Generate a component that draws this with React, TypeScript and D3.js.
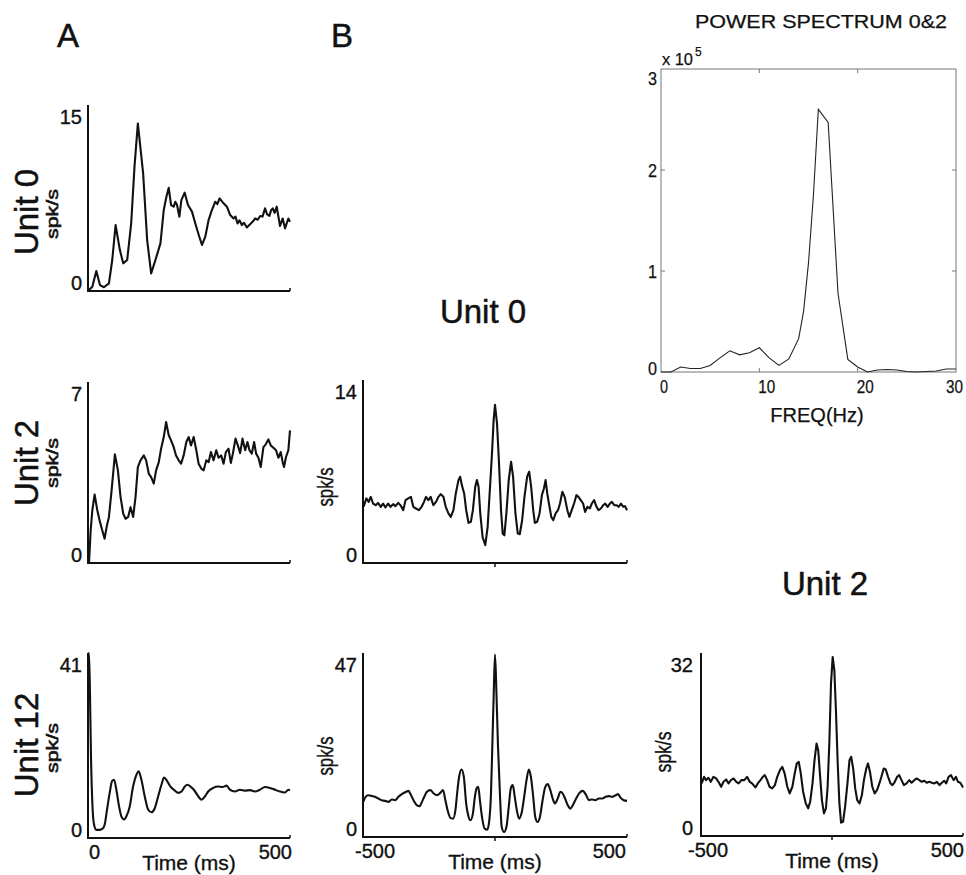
import React from "react";
import * as d3 from "d3";

const FONT = "'Liberation Sans', Arial, Helvetica, sans-serif";
const INK = "#111";

// ---------- data ----------
// Panel A: PSTHs, [time ms, rate spk/s]
const unit0Psth: [number, number][] = [[0,0],[10.7,0.35],[20.6,1.61],[29.6,0.48],[39.5,0.3],[51.8,0.62],[60,2.5],[68.3,5.32],[78.9,3.3],[87.2,2.23],[97,2.5],[106.9,5.46],[115.1,10.03],[123.4,13.51],[136.5,9.48],[146.4,4.11],[156.3,1.42],[166.9,2.5],[179.3,3.84],[187.5,6.53],[194.1,7.6],[199.8,8.33],[205.6,6.93],[212.2,6.8],[216,7.2],[220.4,6.93],[226.2,5.99],[231.1,7.33],[239.3,7.93],[247.5,6.93],[257.4,6.4],[265.6,5.45],[275.5,4.38],[282.1,3.71],[290.3,4.38],[298.5,5.72],[306.7,6.53],[315,7.2],[320,7.0],[325.7,7.47],[335.5,7.07],[343.8,6.8],[352,6.12],[360.2,5.85],[365,6.0],[370.1,5.45],[375,5.7],[380.8,5.32],[386,5.5],[393.1,5.13],[403,5.45],[408,5.6],[413.7,5.85],[420,5.75],[426,6.05],[432,6.0],[438.3,6.67],[443,6.2],[449,6.05],[453,6.5],[457.2,6.67],[462,6.3],[467.1,6.8],[475.3,5.24],[481.9,5.85],[487.7,5.05],[495.9,5.85],[500,5.59]];

const unit2Psth: [number, number][] = [[2.5,0],[6.6,1.26],[10.7,2.04],[16.4,2.65],[23,2.04],[29.6,1.59],[35.4,1.26],[41.1,0.94],[46.1,1.39],[51.8,1.78],[58.4,2.81],[66.6,4.2],[74,3.58],[80.6,2.55],[87.2,1.91],[92.9,1.71],[99.5,1.78],[105.3,2.16],[111.8,1.78],[117.6,2.55],[123.4,3.71],[129.9,3.97],[138.2,4.16],[143.9,3.97],[150.5,3.45],[156.3,3.32],[162.8,3.07],[168.6,3.58],[175.2,3.9],[180.9,4.42],[187.5,4.87],[193.3,5.45],[199.8,4.94],[205.6,4.74],[212.2,4.48],[217.9,4.16],[224.5,3.97],[230.3,3.84],[236.8,4.16],[243.4,4.68],[249.2,4.87],[254.9,4.55],[261.5,4.87],[268.1,4.36],[273.8,3.84],[280.4,3.65],[286.2,3.58],[292.8,3.97],[298.5,3.9],[304.3,4.29],[310.9,3.97],[317.4,4.36],[323.2,4.07],[329.8,4.16],[335.5,3.84],[341.3,4.29],[347.9,4.42],[353.6,3.87],[358.6,4.23],[365.1,4.81],[370.9,4.55],[376.6,4.25],[382.4,4.81],[389,4.36],[394.7,4.68],[399.7,4.36],[405.4,4.23],[411.2,4.68],[416.1,4.23],[421.9,4.07],[427.6,3.71],[434.2,4.48],[440,4.59],[446.5,4.78],[452.3,4.55],[458.9,4.46],[465.5,4.36],[471.2,4.07],[477,4.29],[481.9,3.9],[485.2,3.71],[490.1,4.1],[495.9,4.36],[500,5.13]];

const unit12Psth: [number, number][] = [[0,40.3],[2.5,41],[5,31.4],[7.4,18.1],[10.7,7.8],[14.9,3],[20.7,1.8],[28.9,1.8],[35.5,2],[41.3,3],[47.1,6.3],[53.7,10],[59.5,12.6],[64.5,12.9],[70.2,10.7],[76.9,7],[82.6,4.8],[89.3,4.1],[95,4.8],[103.3,7],[111.6,11.4],[119.8,14],[125.6,14.8],[132.2,12.9],[140.5,9.2],[148.8,6.3],[157,5.7],[165.3,6.6],[173.6,9.2],[181.8,11.8],[188.4,13.4],[195.9,12.6],[204.1,11.4],[212.4,10.7],[223.1,10],[231.4,10.3],[239.7,11.4],[246.3,11.8],[253.7,11.4],[262,10.7],[270.2,9.6],[281,8.5],[289.3,9.2],[297.5,10.3],[309.9,11.1],[322.3,11.4],[333.1,11.3],[343,11.6],[351.2,10.7],[363.6,10.3],[376,10.7],[388.4,10.5],[400.8,10.6],[413.2,10.3],[425.6,10.7],[438,11.3],[450.4,11.1],[462.8,10.7],[475.2,10.3],[487.6,10.1],[495.9,10.7],[500,10.6]];

// Panel B: cross-correlograms, [lag ms, rate spk/s]
const unit0Ccg: [number, number][] = [[-497.5,4.3],[-487.3,4.94],[-478.4,4.68],[-470.8,5.06],[-461.9,4.55],[-451.8,4.42],[-442.9,4.6],[-432.7,4.3],[-423.9,4.55],[-415,4.25],[-404.8,4.55],[-395.9,4.3],[-385.8,4.5],[-376.9,4.35],[-366.8,4.6],[-357.9,4.42],[-347.7,4.04],[-338.8,4.81],[-328.7,4.94],[-318.5,5.06],[-309.6,4.3],[-299.5,4.17],[-288.1,4.04],[-277.9,4.3],[-269,4.68],[-261.4,5.06],[-252.5,4.81],[-243.7,5.06],[-233.5,4.42],[-223.4,4.68],[-214.5,5.06],[-205.6,5.27],[-195.4,5.06],[-186.6,4.3],[-176.4,3.79],[-167.5,3.53],[-157.4,4.04],[-148.5,5.32],[-138.3,6.34],[-132,6.6],[-125.6,5.96],[-116.8,5.32],[-109.1,4.04],[-100.3,3.07],[-91.4,3.15],[-83.8,4.04],[-74.9,5.83],[-68.5,6.34],[-62.2,5.83],[-55.8,3.79],[-47,1.99],[-36.8,1.36],[-27.9,2.76],[-20.3,5.32],[-11.4,8.39],[-5.1,10.95],[0,12.1],[7.6,10.69],[15.2,7.62],[22.8,4.04],[29.2,2.25],[35.5,2.12],[43.1,3.79],[52,6.34],[60.9,7.75],[68.5,6.6],[77.4,3.79],[86.3,2.25],[93.9,2.2],[102.8,3.27],[111.6,5.06],[121.8,6.6],[129.4,6.98],[137,5.83],[144.7,4.04],[151,3.07],[159.9,3.15],[168.8,3.79],[177.6,5.19],[185.3,5.7],[191.6,6.34],[198,5.32],[204.3,4.55],[213.2,3.53],[220.8,3.27],[229.7,3.79],[238.6,4.04],[246.2,4.55],[255.1,5.45],[263.9,5.06],[274.1,4.04],[281.7,3.53],[290.6,4.04],[299.5,4.55],[308.3,5.19],[315.9,5.06],[324.8,4.81],[333.7,4.55],[341.3,3.91],[350.2,4.3],[359.1,4.17],[366.7,4.55],[375.6,4.81],[384.5,4.3],[392.1,4.04],[401,4.17],[409.9,4.42],[417.5,4.55],[426.4,4.3],[435.3,4.55],[442.9,4.68],[451.8,4.42],[460.6,4.42],[468.2,4.3],[477.1,4.55],[486,4.3],[492.4,4.35],[500,4.04]];

const unit12Ccg: [number, number][] = [[-499.1,8.97],[-490.2,10.26],[-480.1,10.68],[-467.4,10.51],[-454.7,10.26],[-442,9.83],[-429.3,9.4],[-416.6,9.23],[-403.9,8.97],[-391.2,9.57],[-378.5,9.4],[-365.8,10.26],[-353.1,10.94],[-336.6,11.54],[-327.7,11.79],[-321.3,11.11],[-308.6,9.4],[-295.9,8.12],[-285.8,7.86],[-276.9,8.97],[-268,10.26],[-257.8,11.54],[-245.1,11.97],[-232.4,11.11],[-219.7,10.68],[-207,11.28],[-196.9,11.97],[-188,9.4],[-177.8,6.41],[-168.9,4.87],[-158.8,4.7],[-149.9,6.84],[-143.5,11.11],[-135.9,15.38],[-127,17.26],[-118.1,15.38],[-109.2,8.55],[-101.6,5.56],[-92.7,4.27],[-83.8,5.98],[-76.2,10.26],[-69.9,12.39],[-63.5,12.82],[-57.2,9.4],[-48.3,4.7],[-39.4,2.14],[-29.2,1.88],[-21.6,4.27],[-15.2,11.11],[-10.2,23.08],[-5.1,35.9],[0,46.58],[5.1,37.61],[11.4,23.08],[19.1,10.26],[25.4,2.56],[34.3,1.28],[43.2,2.56],[52.1,7.69],[59.7,12.39],[67.3,13.25],[74.9,10.26],[82.6,6.84],[91.4,4.7],[100.3,5.98],[110.5,10.26],[119.4,14.53],[128.3,17.26],[135.9,15.38],[144.8,10.26],[152.4,5.13],[161.3,3.85],[170.2,5.13],[180.3,9.4],[190.5,12.82],[199.4,13.5],[209.6,11.97],[218.4,9.83],[227.3,8.55],[237.5,9.83],[247.7,11.54],[256.5,11.11],[265.4,9.83],[275.6,8.12],[285.8,7.26],[294.6,8.12],[307.3,9.83],[320,11.28],[332.7,11.79],[345.4,10.68],[355.6,9.4],[367,9.57],[379.7,9.4],[393.7,9.83],[406.4,9.83],[419.1,10.26],[431.8,10.43],[444.5,10.26],[457.2,10.68],[466.1,10.94],[476.3,10],[487.7,9.4],[500,9.23]];

const unit2Ccg: [number, number][] = [[-497.4,9.19],[-488.4,10.35],[-480.8,9.77],[-471.8,10.18],[-462.8,9.48],[-452.5,10.35],[-442.3,10.06],[-433.3,9.48],[-423.1,8.61],[-414.1,9.48],[-403.8,9.89],[-394.9,9.19],[-385.9,9.77],[-375.6,10.06],[-365.4,9.48],[-356.4,9.19],[-346.1,9.77],[-334.6,9.77],[-324.3,10.35],[-314.1,9.48],[-305.1,9.19],[-292.3,8.49],[-283.3,9.19],[-273.1,9.77],[-264.1,10.35],[-256.4,10.65],[-247.4,9.77],[-238.5,8.61],[-228.2,8.32],[-217.9,8.9],[-209,10.35],[-198.7,11.52],[-189.7,12.1],[-180.8,10.94],[-170.5,8.61],[-161.5,7.45],[-151.3,8.61],[-142.3,10.94],[-134.6,12.68],[-126.9,12.97],[-119.2,10.94],[-110.3,7.74],[-100,5.7],[-91,4.83],[-83.3,5.99],[-74.4,9.19],[-66.7,13.26],[-59,16.17],[-52.6,15.01],[-46.2,10.94],[-38.5,6.28],[-30.8,3.96],[-23.1,4.83],[-16.7,8.61],[-10.3,16.17],[-3.8,26.64],[2.6,31.3],[9,28.97],[15.4,21.41],[21.8,12.68],[28.2,5.7],[34.6,2.33],[42.3,2.5],[50,5.12],[59,9.19],[66.7,13.26],[73.1,13.85],[80.8,11.81],[88.5,8.32],[96.2,6.28],[105.1,5.7],[114.1,7.16],[121.8,9.77],[130.8,11.81],[137.2,12.68],[144.9,11.23],[153.8,8.61],[162.8,7.45],[171.8,8.03],[180.8,9.19],[188.5,10.35],[197.4,11.81],[205.1,11.63],[214.1,10.35],[223.1,9.19],[230.8,8.9],[239.7,9.48],[248.7,10.35],[256.4,10.65],[265.4,9.77],[274.3,8.9],[284.6,9.19],[294.9,9.77],[303.8,9.31],[314.1,9.77],[323.1,10.06],[333.3,9.77],[342.3,9.48],[352.6,9.66],[361.5,9.31],[371.8,9.48],[380.8,9.31],[391,9.19],[400,9.48],[410.2,8.9],[419.2,9.31],[428.2,9.66],[435.9,9.19],[444.9,10.35],[453.8,10.65],[464.1,9.77],[473.1,10.35],[480.8,9.48],[489.7,9.31],[498.7,8.61],[500,8.49]];

// Power spectrum 0&2, [Hz, power x1e5]
const spectrumFreq = [0,1,2,3,4,5,6,7,8,9,10,11,12,13,14,14.5,15,15.5,16,17,18,19,20,21,22,23,24,25,26,27,28,29,30];
const spectrumPower = [0,0,0.05,0.035,0.035,0.065,0.14,0.21,0.17,0.19,0.24,0.14,0.065,0.13,0.33,0.6,1.08,1.75,2.6,2.47,0.78,0.125,0.05,0,0.02,0.025,0.02,0.005,0,0.005,0.01,0.03,0.03];
const spectrumYTicks = [0, 1, 2, 3];
const spectrumXTicks = [0, 10, 20, 30];

// ---------- components ----------
type TraceProps = {
  data: [number, number][];
  xDomain: [number, number];
  yMax: number;
  x0: number; x1: number; yTop: number; yBottom: number;
  xLabels?: boolean;
  xLabelShift?: [number, number];
  centerTick?: boolean;
  smooth?: boolean;
  yLabelGap?: number;
};

const inkText = { fill: INK, stroke: INK, strokeWidth: 0.35 };

function Trace(p: TraceProps) {
  const x = d3.scaleLinear().domain(p.xDomain).range([p.x0, p.x1]);
  const y = d3.scaleLinear().domain([0, p.yMax]).range([p.yBottom, p.yTop]);
  const line = d3
    .line<[number, number]>()
    .x((d) => x(d[0]))
    .y((d) => y(d[1]))
    .curve(p.smooth ? d3.curveMonotoneX : d3.curveLinear);
  const gap = p.yLabelGap ?? 6;
  const [ls, rs] = p.xLabelShift ?? [0, 0];
  return (
    <g>
      <path d={line(p.data) || ""} fill="none" stroke={INK} strokeWidth={2.1} strokeLinejoin="round" />
      <line x1={x(p.xDomain[0])} x2={x(p.xDomain[0])} y1={y(p.yMax)} y2={y(0) + 1} stroke={INK} strokeWidth={2} />
      <line x1={x(p.xDomain[0]) - 1} x2={x(p.xDomain[1])} y1={y(0)} y2={y(0)} stroke={INK} strokeWidth={2} />
      <line x1={x(p.xDomain[1])} x2={x(p.xDomain[1])} y1={y(0)} y2={y(0) - 3} stroke={INK} strokeWidth={1.5} />
      {p.centerTick && (
        <line x1={x(0)} x2={x(0)} y1={y(0)} y2={y(0) + 4} stroke={INK} strokeWidth={1.5} />
      )}
      <g fontSize={20} fontFamily={FONT} {...inkText}>
        <text x={x(p.xDomain[0]) - gap} y={y(p.yMax) + 19} textAnchor="end">{p.yMax}</text>
        <text x={x(p.xDomain[0]) - gap} y={y(0) - 1} textAnchor="end">0</text>
      </g>
      {p.xLabels && (
        <g fontSize={20} fontFamily={FONT} {...inkText}>
          <text x={x(p.xDomain[0]) + ls} y={y(0) + 21} textAnchor="start">{p.xDomain[0]}</text>
          <text x={x(p.xDomain[1]) + rs} y={y(0) + 21} textAnchor="end">{p.xDomain[1]}</text>
          <text x={(x(p.xDomain[0]) + x(p.xDomain[1])) / 2} y={y(0) + 32} textAnchor="middle" fontSize={21}>
            Time (ms)
          </text>
        </g>
      )}
    </g>
  );
}

function Spectrum() {
  const x = d3.scaleLinear().domain([0, 30]).range([661, 956]);
  const y = d3.scaleLinear().domain([0, 3]).range([372, 69]);
  const pts: [number, number][] = spectrumFreq.map((f, i) => [f, spectrumPower[i]]);
  const line = d3.line<[number, number]>().x((d) => x(d[0])).y((d) => y(d[1]));
  return (
    <g fontFamily={FONT} {...inkText} strokeWidth={0.25}>
      <text x={695} y={28} fontSize={18} textLength={252} lengthAdjust="spacingAndGlyphs">
        POWER SPECTRUM 0&amp;2
      </text>
      <text x={662} y={65} fontSize={16} textLength={31} lengthAdjust="spacingAndGlyphs">x 10</text>
      <text x={695} y={56} fontSize={12}>5</text>
      <rect x={x(0)} y={y(3)} width={x(30) - x(0)} height={y(0) - y(3)} fill="none" stroke="#777" strokeWidth={1} />
      {spectrumXTicks.slice(1, -1).map((t) => (
        <g key={"xt" + t}>
          <line x1={x(t)} x2={x(t)} y1={y(0)} y2={y(0) - 4} stroke="#777" strokeWidth={1} />
          <line x1={x(t)} x2={x(t)} y1={y(3)} y2={y(3) + 4} stroke="#777" strokeWidth={1} />
        </g>
      ))}
      {spectrumYTicks.slice(1, -1).map((t) => (
        <g key={"yt" + t}>
          <line x1={x(0)} x2={x(0) + 4} y1={y(t)} y2={y(t)} stroke="#777" strokeWidth={1} />
          <line x1={x(30)} x2={x(30) - 4} y1={y(t)} y2={y(t)} stroke="#777" strokeWidth={1} />
        </g>
      ))}
      <path d={line(pts) || ""} fill="none" stroke="#222" strokeWidth={1.1} />
      {spectrumYTicks.map((t) => (
        <text key={"yl" + t} x={657} y={Math.min(Math.max(y(t) + 7, y(3) + 16), y(0) + 3)} textAnchor="end" fontSize={18} textLength={9} lengthAdjust="spacingAndGlyphs">
          {t}
        </text>
      ))}
      {spectrumXTicks.map((t, i) => (
        <text
          key={"xl" + t}
          x={i === spectrumXTicks.length - 1 ? x(t) + 7 : x(t) - 1}
          y={393}
          textAnchor={i === spectrumXTicks.length - 1 ? "end" : "start"}
          fontSize={18}
          textLength={t === 0 ? 8 : 17}
          lengthAdjust="spacingAndGlyphs"
        >
          {t}
        </text>
      ))}
      <text x={817} y={422} textAnchor="middle" fontSize={20}>FREQ(Hz)</text>
    </g>
  );
}

function RotLabel({ x, y, text, size, len, sw = 0.5 }: { x: number; y: number; text: string; size: number; len?: number; sw?: number }) {
  return (
    <text
      transform={`translate(${x},${y}) rotate(-90)`}
      textAnchor="middle"
      fontSize={size}
      fontFamily={FONT}
      fill={INK}
      stroke={INK}
      strokeWidth={sw}
      {...(len ? { textLength: len, lengthAdjust: "spacingAndGlyphs" } : {})}
    >
      {text}
    </text>
  );
}

const bigText = { fontSize: 33, fontFamily: FONT, fill: INK, stroke: INK, strokeWidth: 0.5 };

export default function App() {
  return (
    <svg width={966} height={875} style={{ position: "absolute", left: 0, top: 0, background: "#fff" }}>
      <rect x={0} y={0} width={966} height={875} fill="#fff" />
      <text x={57} y={47} {...bigText}>A</text>
      <text x={331} y={47} {...bigText}>B</text>

      {/* Panel A */}
      <RotLabel x={38} y={212} text="Unit 0" size={33} />
      <RotLabel x={58} y={214} text="spk/s" size={17} len={50} sw={0.6} />
      <Trace data={unit0Psth} xDomain={[0, 500]} yMax={15} x0={88} x1={290} yTop={105} yBottom={291} />

      <RotLabel x={38} y={463} text="Unit 2" size={33} />
      <RotLabel x={58} y={463} text="spk/s" size={17} len={50} sw={0.6} />
      <Trace data={unit2Psth} xDomain={[0, 500]} yMax={7} x0={88} x1={290} yTop={382} yBottom={563} />

      <RotLabel x={38} y={745} text="Unit 12" size={33} />
      <RotLabel x={58} y={748} text="spk/s" size={17} len={50} sw={0.6} />
      <Trace data={unit12Psth} xDomain={[0, 500]} yMax={41} x0={88} x1={290} yTop={653} yBottom={838} xLabels xLabelShift={[1, 2]} smooth />

      {/* Panel B */}
      <text x={483} y={323} textAnchor="middle" {...bigText}>Unit 0</text>
      <RotLabel x={333} y={487} text="spk/s" size={22} len={39} sw={0.4} />
      <Trace data={unit0Ccg} xDomain={[-500, 500]} yMax={14} x0={363} x1={627} yTop={380} yBottom={563} centerTick />

      <RotLabel x={333} y={756} text="spk/s" size={22} len={39} sw={0.4} />
      <Trace data={unit12Ccg} xDomain={[-500, 500]} yMax={47} x0={363} x1={627} yTop={653} yBottom={837} xLabels xLabelShift={[-8, -1]} centerTick smooth />

      <text x={825} y={595} textAnchor="middle" {...bigText}>Unit 2</text>
      <RotLabel x={671} y={752} text="spk/s" size={22} len={41} sw={0.4} />
      <Trace data={unit2Ccg} xDomain={[-500, 500]} yMax={32} x0={701} x1={963} yTop={653} yBottom={836} xLabels xLabelShift={[-13, 1]} centerTick yLabelGap={8} />

      <Spectrum />
    </svg>
  );
}
